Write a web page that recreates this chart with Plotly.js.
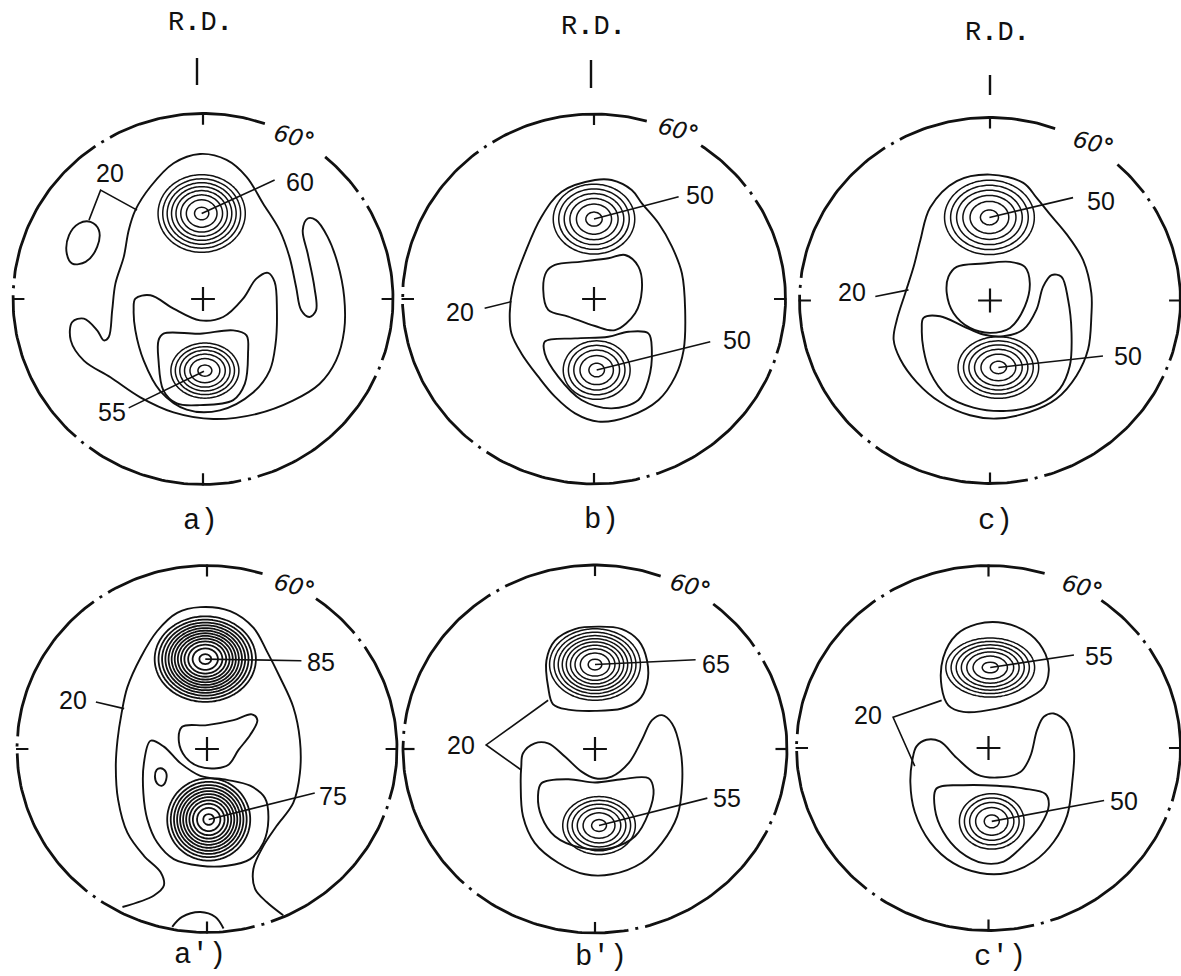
<!DOCTYPE html>
<html>
<head>
<meta charset="utf-8">
<script src="https://cdn.plot.ly/plotly-3.0.1.min.js"></script>
<style>
  html, body { margin: 0; padding: 0; background: #fff; }
  #fig { width: 1181px; height: 976px; }
</style>
</head>
<body>
<div id="fig"></div>
<script>
// Six pole figures. Contour outlines are lists of [x, y] points in units of
// the pole-figure radius (rim = 100, centre = 0, x to the right, y towards R.D.).

const panelNames = ['a)', 'b)', 'c)', "a')", "b')", "c')"];

// ---- low-level contour outlines (closed curves) ----
const aIsland = [[-59.2,41.6],[-54.8,37.1],[-55.7,28.1],[-61.8,20.0],[-68.8,19.1],[-71.7,24.5],[-70.5,34.4],[-65.3,40.7]];
const aMain = [[-1.6,78.2],[12.4,75.0],[22.9,65.9],[31.6,51.5],[40.3,37.1],[45.5,22.7],[49.0,6.5],[51.7,-6.1],[56.0,-9.7],[59.5,-6.1],[58.6,6.5],[55.1,24.5],[52.5,37.1],[55.1,43.4],[59.5,42.5],[65.6,33.5],[70.9,19.1],[74.3,1.1],[74.3,-16.9],[70.0,-33.2],[61.3,-45.8],[47.3,-54.8],[28.1,-62.0],[5.4,-64.7],[-15.5,-61.1],[-33.0,-53.0],[-48.7,-42.2],[-62.7,-33.2],[-69.6,-22.3],[-68.8,-12.4],[-62.7,-10.6],[-55.7,-16.9],[-52.2,-22.3],[-49.6,-20.5],[-47.8,-6.1],[-46.1,8.3],[-41.7,22.7],[-39.1,37.1],[-35.6,47.9],[-27.7,60.5],[-15.5,73.2]];
const aBowl = [[-35.6,0.2],[-27.7,2.0],[-15.5,-5.2],[-1.6,-11.5],[10.6,-9.7],[21.1,0.2],[28.1,11.0],[34.2,14.1],[37.7,9.2],[38.9,-6.1],[38.2,-24.1],[35.1,-38.6],[26.4,-50.4],[8.9,-60.0],[-8.6,-59.6],[-22.5,-49.6],[-31.2,-33.2],[-35.6,-16.9],[-36.5,-6.1]];
const aBox = [[-20.8,-18.7],[-1.6,-18.7],[15.9,-16.9],[22.9,-19.6],[23.7,-29.5],[22.0,-45.8],[15.9,-54.5],[-1.6,-57.2],[-13.8,-56.3],[-20.8,-49.4],[-23.4,-33.2],[-23.4,-22.3]];

const bEgg = [[0.5,64.3],[9.2,64.3],[19.7,58.9],[25.0,51.7],[33.7,40.9],[40.7,28.3],[45.9,13.9],[47.6,-5.9],[46.8,-27.6],[42.4,-42.0],[33.7,-54.6],[18.0,-63.6],[2.3,-66.3],[-9.9,-61.8],[-20.4,-52.8],[-29.1,-42.0],[-37.9,-29.4],[-43.1,-18.6],[-44.0,-7.7],[-42.2,6.7],[-36.1,24.7],[-27.4,44.5],[-16.9,58.0]];
const bHole = [[-20.4,18.4],[-6.5,20.2],[7.5,22.0],[16.2,23.8],[23.2,17.5],[25.0,4.9],[21.5,-7.7],[11.0,-16.8],[0.5,-14.6],[-13.4,-9.5],[-23.9,-5.9],[-26.5,4.9],[-24.8,14.8]];
const bBox = [[-25.7,-23.1],[-9.9,-21.3],[7.5,-20.4],[18.0,-17.7],[28.4,-18.6],[30.2,-27.6],[28.4,-43.8],[23.2,-54.6],[9.2,-59.1],[-6.5,-54.6],[-18.7,-42.0],[-25.7,-29.4]];

const cEgg = [[0,68.8],[17.5,64.3],[24.4,56.2],[31.4,47.2],[40.1,36.4],[48.9,22.0],[53.2,4.0],[53.2,-8.6],[51.5,-26.7],[45.4,-41.1],[34.9,-53.7],[20.9,-60.9],[3.5,-64.5],[-10.5,-62.7],[-26.2,-55.5],[-38.4,-44.7],[-47.1,-32.1],[-50.6,-21.3],[-48.9,-10.5],[-44.5,4.0],[-40.1,18.4],[-36.6,32.8],[-31.4,50.8],[-17.5,65.2]];
const cHole = [[-17.5,18.4],[-3.5,20.2],[10.5,21.1],[18.3,18.4],[20.9,9.4],[18.3,-3.2],[10.5,-15.0],[0,-17.7],[-10.5,-15.0],[-19.2,-6.8],[-22.7,4.0],[-21.8,13.0]];
const cBowl = [[-34.9,-9.5],[-26.2,-8.6],[-14.0,-14.1],[-3.5,-18.6],[7.0,-19.5],[17.5,-15.9],[24.4,-5.0],[27.9,7.6],[32.3,13.9],[37.5,13.0],[41.0,0.4],[42.8,-17.7],[41.9,-35.7],[36.6,-48.3],[26.2,-56.4],[8.7,-60.3],[-8.7,-58.5],[-22.7,-51.9],[-31.4,-39.3],[-34.9,-26.7],[-35.8,-15.9]];

const a2Hole = [[-13.1,12.1],[0,13.0],[14.0,15.7],[23.6,18.9],[26.5,15.7],[22.7,7.6],[16.6,-0.5],[11.3,-8.6],[5.2,-10.5],[-4.4,-9.5],[-11.3,-4.5],[-14.8,4.0]];
const a2Lobe = [[-29.7,4.5],[-22.7,1.3],[-14.0,-7.7],[-3.5,-14.6],[10.5,-16.8],[22.7,-20.0],[30.5,-26.7],[32.3,-38.4],[29.7,-51.0],[22.7,-60.0],[10.5,-63.6],[-3.5,-63.6],[-17.5,-60.0],[-26.2,-51.0],[-31.4,-38.4],[-33.5,-24.0],[-33.2,-7.7]];
const a2Dot = [[-24.4,-10.5],[-21.8,-12.3],[-21.5,-16.8],[-23.6,-20.0],[-26.2,-18.9],[-27.4,-15.0],[-26.5,-11.4]];

const b2Cap = [[-24.4,33.7],[-25.3,48.1],[-20.9,58.9],[-10.5,65.2],[1.7,66.5],[14.0,65.2],[22.7,58.9],[27.1,48.1],[27.1,35.5],[22.7,26.5],[14.0,22.0],[0,20.7],[-14.0,21.4],[-21.8,24.3]];
const b2Bowl = [[-37.5,-2.3],[-31.4,3.1],[-24.4,3.1],[-15.7,-4.1],[-7.0,-12.3],[0,-15.9],[8.7,-15.0],[17.5,-7.7],[24.4,4.9],[29.7,15.7],[34.9,18.4],[40.1,13.9],[44.5,-0.5],[45.4,-18.6],[42.8,-36.6],[34.9,-51.0],[24.4,-61.8],[8.7,-68.1],[-5.2,-68.1],[-19.2,-61.8],[-31.4,-51.0],[-37.5,-36.6],[-38.7,-18.6],[-38.4,-9.5]];
const b2Box = [[-27.9,-18.6],[-14.0,-16.4],[0,-18.2],[14.0,-16.4],[27.9,-15.9],[30.5,-22.2],[27.9,-34.8],[20.9,-47.4],[8.7,-53.7],[-7.0,-53.7],[-20.9,-47.4],[-27.9,-36.6],[-29.7,-25.8]];

const c2Cap = [[-24.4,33.3],[-23.6,49.5],[-16.6,62.2],[-6.1,67.9],[7.9,68.5],[21.8,62.2],[29.7,51.4],[31.4,42.3],[28.8,33.3],[18.3,26.1],[4.4,21.6],[-13.1,19.8],[-20.9,23.4]];
const c2Bowl = [[-37.5,0.9],[-32.3,4.5],[-25.3,3.6],[-16.6,-5.4],[-6.1,-14.4],[4.4,-16.2],[16.6,-13.2],[21.8,-4.5],[25.3,9.9],[28.8,17.1],[34.0,18.9],[41.0,13.5],[44.5,-0.9],[43.6,-18.9],[41.0,-36.9],[34.0,-51.4],[23.6,-62.2],[9.6,-68.5],[-4.4,-68.5],[-18.3,-63.1],[-30.5,-51.4],[-38.4,-35.1],[-40.7,-18.9],[-39.6,-6.3]];
const c2Box = [[-27.1,-22.2],[-13.1,-20.4],[4.4,-20.7],[18.3,-22.2],[29.7,-25.2],[31.4,-31.5],[27.1,-42.3],[18.3,-53.2],[7.9,-62.2],[-2.6,-63.1],[-14.8,-56.8],[-23.6,-45.9],[-27.9,-33.3]];

// ---- outlines that run out to the rim (open curves) ----
const a2Main = [[-44.5,-86.1],[-27.9,-79.8],[-22.7,-74.4],[-24.4,-67.2],[-33.2,-58.2],[-41.9,-45.6],[-46.8,-27.6],[-48.0,-9.5],[-47.1,4.9],[-45.0,19.3],[-41.9,33.7],[-34.9,49.9],[-26.2,64.3],[-15.7,74.2],[-3.5,77.3],[12.2,75.1],[24.4,66.1],[31.4,53.5],[38.4,39.1],[45.4,22.9],[48.9,4.9],[48.9,-13.2],[45.4,-29.4],[36.6,-42.0],[29.7,-52.8],[24.4,-65.4],[25.3,-76.2],[31.4,-83.4],[40.1,-90.6]];
const a2Bump = [[-18.3,-96.9],[-13.1,-91.5],[-3.5,-88.8],[4.4,-91.5],[8.7,-97.8]];

const closedOutlines = [
  [aIsland, aMain, aBowl, aBox],
  [bEgg, bHole, bBox],
  [cEgg, cHole, cBowl],
  [a2Hole, a2Lobe, a2Dot],
  [b2Cap, b2Bowl, b2Box],
  [c2Cap, c2Bowl, c2Box]
];
const rimOutlines = [[], [], [], [a2Main, a2Bump], [], []];

// ---- intensity maxima: position, spread, lowest ring level and peak level ----
const peakPanel = [0, 0, 1, 1, 2, 2, 3, 3, 4, 4, 5, 5];
const peakX     = [-0.7, 1.0, 0, 1.4, -0.3, 4.4, -0.9, 0.9, 0, 2.1, 0.9, 1.7];
const peakY     = [46.1, -38.6, 43.2, -38.4, 45.4, -36.6, 49.0, -38.4, 45.9, -41.6, 44.1, -40.2];
const peakSX    = [17.1, 15.9, 17.7, 16.8, 19.6, 17.6, 16.9, 14.6, 16.9, 16.8, 18.1, 16.2];
const peakSY    = [15.6, 13.2, 15.7, 15.2, 16.9, 14.0, 14.8, 15.0, 13.9, 14.0, 12.7, 14.6];
const peakLow   = [25, 30, 25, 30, 25, 25, 25, 25, 25, 30, 25, 30];
const peakLevel = [60, 55, 50, 50, 50, 50, 85, 75, 65, 55, 55, 50];
const levelStep = 5;

// ---- contour-value labels with their leader lines ----
const labelPanel = [0, 0, 0, 1, 1, 1, 2, 2, 2, 3, 3, 3, 4, 4, 4, 5, 5, 5];
const labelText  = ['20', '60', '55', '20', '50', '50', '20', '50', '50', '20', '85', '75', '20', '65', '55', '20', '55', '50'];
const labelX     = [-48.7, 50.8, -47.8, -70.2, 55.5, 74.7, -72.4, 58.5, 72.4, -70.7, 60.2, 66.3, -69.8, 62.8, 68.9, -62.8, 57.6, 70.7];
const labelY     = [67.7, 63.2, -61.1, -6.8, 56.2, -22.2, 4.9, 54.4, -30.3, 26.5, 47.2, -25.8, 2.2, 46.3, -26.7, 18.0, 50.5, -28.8];
const leaders = [
  [[-34.7,47.9],[-53.9,58.7],[-60.0,42.5]],
  [[-0.7,46.1],[37.7,64.1]],
  [[-39.1,-58.7],[0.5,-38.9]],
  [[-57.1,-5.0],[-43.1,-1.4]],
  [[0,43.2],[44.2,55.3]],
  [[1.4,-38.4],[60.7,-23.1]],
  [[-60.2,2.2],[-42.8,5.8]],
  [[-0.3,45.4],[43.6,56.2]],
  [[4.4,-36.6],[59.3,-30.3]],
  [[-58.5,25.6],[-43.6,22.0]],
  [[-0.9,49.0],[49.7,48.1]],
  [[0.9,-38.4],[56.7,-24.0]],
  [[-24.4,26.5],[-56.7,2.2],[-38.4,-11.4]],
  [[0,45.9],[52.4,48.5]],
  [[2.1,-41.6],[58.5,-26.7]],
  [[-24.4,26.1],[-49.7,16.8],[-38.4,-9.9]],
  [[0.9,44.1],[44.5,51.0]],
  [[1.7,-40.2],[60.2,-28.8]]
];
// position of the 60° mark on each figure
const tiltLabelX = [48.2, 44.2, 54.1, 46.2, 49.7, 48.9];
const tiltLabelY = [87.6, 91.4, 85.9, 88.6, 88.6, 88.3];

// ---------------- page geometry ----------------
const W = 1181, H = 976;
const geom = [
  {cx: 203,   cy: 299,   rx: 190,   ry: 185.5, gap: [50, 71], name: [200, 521], rd: [200, 23], rdTick: [197, 58, 85]},
  {cx: 594,   cy: 299,   rx: 191.5, ry: 185,   gap: [56, 74], name: [601, 520], rd: [593, 27], rdTick: [591, 60, 88]},
  {cx: 990,   cy: 300.5, rx: 190.5, ry: 183,   gap: [48, 70], name: [995, 521], rd: [997, 33], rdTick: [990, 75, 95]},
  {cx: 207,   cy: 749,   rx: 190,   ry: 183.5, gap: [55, 73], name: [200, 955]},
  {cx: 595,   cy: 749,   rx: 192,   ry: 184,   gap: [52, 70], name: [601, 957]},
  {cx: 988.5, cy: 748,   rx: 192,   ry: 182.5, gap: [54, 73], name: [1000, 957]}
];

const INK = '#111';
const numFont = {family: 'Liberation Sans, Arial, sans-serif', size: 25, color: INK};
const traces = [], annotations = [], shapes = [];
const layout = {
  width: W, height: H, margin: {l: 0, r: 0, t: 0, b: 0},
  paper_bgcolor: '#fff', plot_bgcolor: 'rgba(0,0,0,0)',
  showlegend: false, hovermode: false, annotations, shapes
};

function axSuffix(i) { return i === 0 ? '' : String(i + 1); }
function xs(pts) { return pts.map(p => p[0]); }
function ys(pts) { return pts.map(p => p[1]); }

geom.forEach((g, i) => {
  const s = axSuffix(i);
  const L = 112;
  const pxL = Math.max(0, g.cx - L * g.rx / 100), pxR = Math.min(W, g.cx + L * g.rx / 100);
  const pyT = Math.max(0, g.cy - L * g.ry / 100), pyB = Math.min(H, g.cy + L * g.ry / 100);
  layout['xaxis' + s] = {domain: [pxL / W, pxR / W], range: [(pxL - g.cx) / g.rx * 100, (pxR - g.cx) / g.rx * 100],
    visible: false, fixedrange: true, anchor: 'y' + s};
  layout['yaxis' + s] = {domain: [1 - pyB / H, 1 - pyT / H], range: [(g.cy - pyB) / g.ry * 100, (g.cy - pyT) / g.ry * 100],
    visible: false, fixedrange: true, anchor: 'x' + s};
  const ax = {xaxis: 'x' + s, yaxis: 'y' + s, hoverinfo: 'skip'};

  // dash-dot rim, interrupted where the 60° mark sits
  const rimX = [], rimY = [];
  const sweep = 360 - (g.gap[1] - g.gap[0]);
  for (let k = 0; k <= 300; k++) {
    const t = (g.gap[1] + sweep * k / 300) * Math.PI / 180;
    rimX.push(100 * Math.cos(t)); rimY.push(100 * Math.sin(t));
  }
  traces.push(Object.assign({type: 'scatter', mode: 'lines', x: rimX, y: rimY,
    line: {color: INK, width: 2.8, dash: '160px,7px,3px,7px'}}, ax));

  // rim ticks at the four principal directions
  traces.push(Object.assign({type: 'scatter', mode: 'lines',
    x: [0, 0, null, 94, 100.5, null, 0, 0, null, -94, -100.5],
    y: [94, 100.5, null, 0, 0, null, -94, -100.5, null, 0, 0],
    line: {color: INK, width: 2.2}}, ax));

  // centre cross
  traces.push(Object.assign({type: 'scatter', mode: 'markers', x: [0], y: [0],
    marker: {symbol: 'cross-thin', size: 17, line: {width: 2.2, color: INK}}}, ax));

  // contour outlines
  closedOutlines[i].forEach(pts => {
    const loop = pts.concat([pts[0]]);
    traces.push(Object.assign({type: 'scatter', mode: 'lines', x: xs(loop), y: ys(loop),
      line: {color: INK, width: 1.9, shape: 'spline', smoothing: 1}}, ax));
  });
  rimOutlines[i].forEach(pts => {
    traces.push(Object.assign({type: 'scatter', mode: 'lines', x: xs(pts), y: ys(pts),
      line: {color: INK, width: 1.9, shape: 'spline', smoothing: 1}}, ax));
  });

  // the 60° mark
  annotations.push({xref: 'x' + s, yref: 'y' + s, x: tiltLabelX[i], y: tiltLabelY[i], text: '60<b>°</b>',
    showarrow: false, textangle: 14, font: {family: 'DejaVu Sans, sans-serif', size: 23, color: INK, style: 'italic'}});

  // panel caption
  annotations.push({xref: 'paper', yref: 'paper', x: g.name[0] / W, y: 1 - g.name[1] / H, text: panelNames[i],
    showarrow: false, xanchor: 'center', yanchor: 'middle',
    font: {family: 'Liberation Mono, Courier New, monospace', size: 29, color: INK}});

  // rolling direction marker above the top row
  if (g.rd) {
    annotations.push({xref: 'paper', yref: 'paper', x: g.rd[0] / W, y: 1 - g.rd[1] / H, text: 'R<b>.</b>D<b>.</b>',
      showarrow: false, xanchor: 'center', yanchor: 'middle',
      font: {family: 'Liberation Mono, Courier New, monospace', size: 27, color: INK}});
    shapes.push({type: 'line', xref: 'paper', yref: 'paper',
      x0: g.rdTick[0] / W, x1: g.rdTick[0] / W, y0: 1 - g.rdTick[1] / H, y1: 1 - g.rdTick[2] / H,
      line: {color: INK, width: 2.4}});
  }
});

// concentric rings of each intensity maximum
peakPanel.forEach((p, j) => {
  const s = axSuffix(p);
  const amp = peakLevel[j] + 1.5;
  const gx = [], gy = [], z = [];
  const n = 81;
  for (let k = 0; k < n; k++) {
    gx.push(peakX[j] + (k / (n - 1) * 2 - 1) * 3.2 * peakSX[j]);
    gy.push(peakY[j] + (k / (n - 1) * 2 - 1) * 3.2 * peakSY[j]);
  }
  for (let r = 0; r < n; r++) {
    const row = [];
    for (let c = 0; c < n; c++) {
      const u = (gx[c] - peakX[j]) / peakSX[j], v = (gy[r] - peakY[j]) / peakSY[j];
      row.push(amp * Math.exp(-0.5 * (u * u + v * v)));
    }
    z.push(row);
  }
  traces.push({type: 'contour', x: gx, y: gy, z: z, xaxis: 'x' + s, yaxis: 'y' + s,
    autocontour: false, contours: {start: peakLow[j], end: peakLevel[j], size: levelStep, coloring: 'none'},
    line: {color: INK, width: peakLevel[j] >= 75 ? 1.8 : 1.5, smoothing: 1}, showscale: false, hoverinfo: 'skip'});
});

// value labels and their leader lines
labelPanel.forEach((p, j) => {
  const s = axSuffix(p);
  traces.push({type: 'scatter', mode: 'lines', x: xs(leaders[j]), y: ys(leaders[j]),
    xaxis: 'x' + s, yaxis: 'y' + s, line: {color: INK, width: 1.6}, hoverinfo: 'skip'});
  annotations.push({xref: 'x' + s, yref: 'y' + s, x: labelX[j], y: labelY[j], text: labelText[j],
    showarrow: false, font: numFont});
});

Plotly.newPlot('fig', traces, layout, {staticPlot: true, displayModeBar: false});
</script>
</body>
</html>
